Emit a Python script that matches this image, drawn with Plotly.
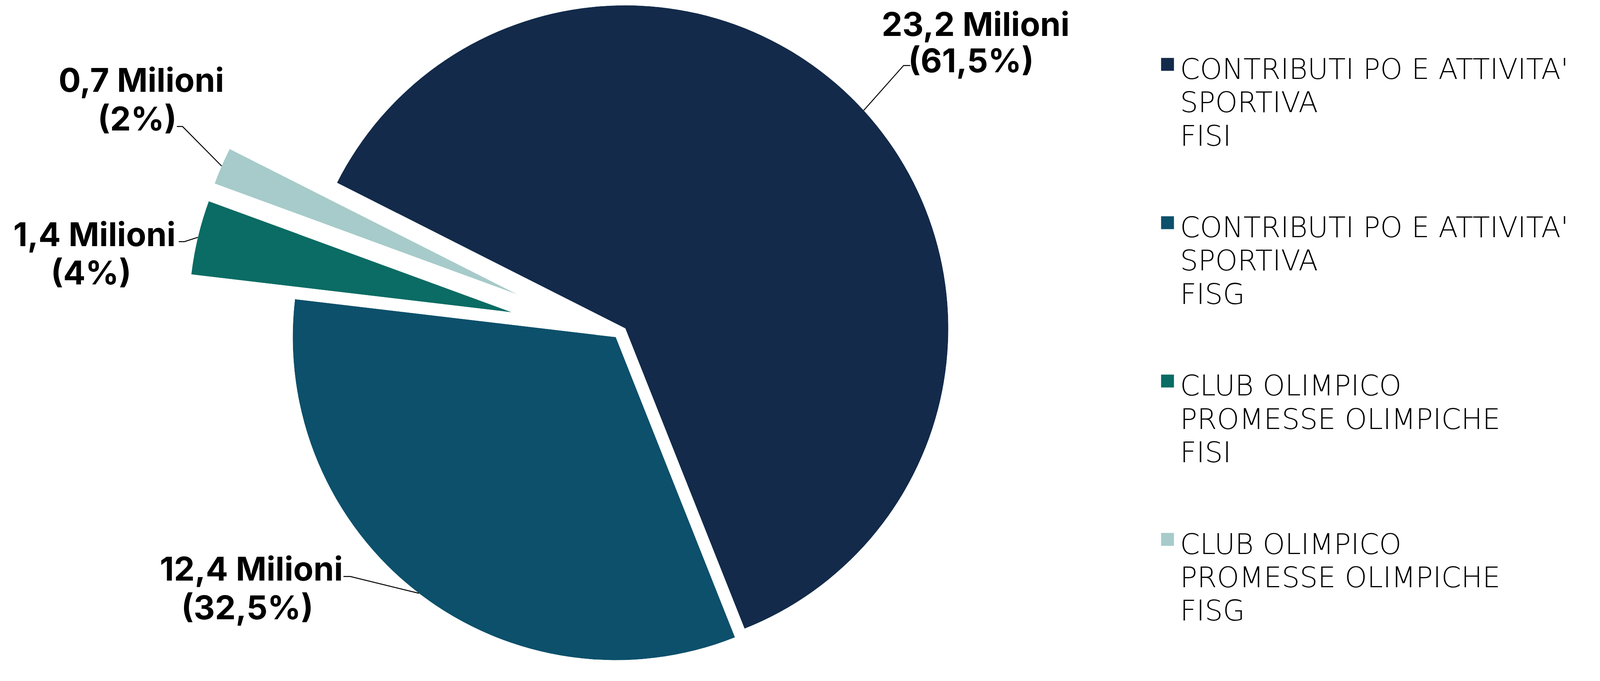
import math
import plotly.graph_objects as go

# ---------------- data ----------------
categories = [
    "CONTRIBUTI PO E ATTIVITA' SPORTIVA FISI",
    "CONTRIBUTI PO E ATTIVITA' SPORTIVA FISG",
    "CLUB OLIMPICO PROMESSE OLIMPICHE FISI",
    "CLUB OLIMPICO PROMESSE OLIMPICHE FISG",
]
legend_lines = [
    ["CONTRIBUTI PO E ATTIVITA'", "SPORTIVA", "FISI"],
    ["CONTRIBUTI PO E ATTIVITA'", "SPORTIVA", "FISG"],
    ["CLUB OLIMPICO", "PROMESSE OLIMPICHE", "FISI"],
    ["CLUB OLIMPICO", "PROMESSE OLIMPICHE", "FISG"],
]
values = [23.2, 12.4, 1.4, 0.7]          # milioni
value_labels = ["23,2 Milioni", "12,4 Milioni", "1,4 Milioni", "0,7 Milioni"]
percent_labels = ["(61,5%)", "(32,5%)", "(4%)", "(2%)"]

# ---------------- style ----------------
colors = ["#132A4A", "#0C506B", "#0A6C64", "#A6CBCA"]
pulls = [0.04, 0.0, 0.33, 0.33]

# screen-pixel design space -> css pixels (page zoom + body margin)
S, M = 1.0315, 8.0
W = int(round(4225 / S - M))
H = int(round(1743 / S - M)) + 1

OX, OY, R = 1626.0, 890.0, 853.0        # pie centre / radius (screen px)
START = 153.2                            # angle where the first slice starts (deg, ccw from east)
LABEL_SIZE = 87.0                        # screen px
LEG_SIZE = 75.0                          # screen px
LABEL_FONT = dict(family="Inter", size=LABEL_SIZE / S, color="#000000", weight=700)
LEG_FONT = dict(family="DejaVu Sans", size=LEG_SIZE / S, color="#000000", weight=200)

# label cap-centres (x centre, y of line 1, y of line 2) and leader elbows (screen px)
label_pos = [((2576, 63), (2564, 165)), ((664, 1507), (653, 1609)),
             ((250, 624), (240, 725)), ((373, 217), (362, 319))]
elbows = [((2386, 173), (2404, 173)), ((925, 1522), (907, 1522)),
          ((487, 638), (472, 638)), ((482, 334), (467, 334))]


def css(v):
    return v / S - M


def px(x):
    return css(x) / W


def py(y):
    return 1 - css(y) / H


def clamp(v):
    return min(1.0, max(0.0, v))


def sector_bbox(s0, s1):
    arc = s1 - s0
    a0 = s0 % 360
    a1 = a0 + arc
    ax0, ay0 = math.cos(math.radians(a0)), math.sin(math.radians(a0))
    ax1, ay1 = math.cos(math.radians(a1)), math.sin(math.radians(a1))
    if (a0 <= 90 and a1 >= 90) or (a0 > 90 and a1 >= 450):
        y1 = 1
    elif ay0 <= 0 and ay1 <= 0:
        y1 = 0
    else:
        y1 = max(ay0, ay1)
    if (a0 <= 180 and a1 >= 180) or (a0 > 180 and a1 >= 540):
        x0 = -1
    elif ax0 >= 0 and ax1 >= 0:
        x0 = 0
    else:
        x0 = min(ax0, ax1)
    if (a0 <= 270 and a1 >= 270) or (a0 > 270 and a1 >= 630):
        y0 = -1
    elif ay0 >= 0 and ay1 >= 0:
        y0 = 0
    else:
        y0 = min(ay0, ay1)
    if a1 >= 360:
        x1 = 1
    elif ax0 <= 0 and ax1 <= 0:
        x1 = 0
    else:
        x1 = max(ax0, ax1)
    return x0, y0, x1, y1


fig = go.Figure()
layout_polars = {}
shapes = []
annotations = []

total = sum(values)
a = START
for i, v in enumerate(values):
    span = 360.0 * v / total
    th1 = a
    th0 = a - span
    mid = a - span / 2
    a = th0
    cx = OX + pulls[i] * R * math.cos(math.radians(mid))
    cy = OY - pulls[i] * R * math.sin(math.radians(mid))
    bx0, by0, bx1, by1 = sector_bbox(th0, th1)
    dom_x = [clamp(px(cx + R * bx0)), clamp(px(cx + R * bx1))]
    dom_y = [clamp(py(cy - R * by0)), clamp(py(cy - R * by1))]
    key = "polar" if i == 0 else f"polar{i + 1}"
    layout_polars[key] = dict(
        domain=dict(x=dom_x, y=dom_y),
        sector=[th0, th1],
        bgcolor="rgba(0,0,0,0)",
        hole=0,
        radialaxis=dict(range=[0, 1], visible=False, showgrid=False, showline=False, showticklabels=False, ticks=""),
        angularaxis=dict(visible=False, showgrid=False, showline=False, showticklabels=False, ticks="",
                         rotation=0, direction="counterclockwise"),
    )
    fig.add_trace(go.Barpolar(
        r=[1], theta=[mid], width=[span], base=0,
        marker=dict(color=colors[i], line=dict(width=0)),
        name=categories[i], subplot=key, showlegend=False, hoverinfo="skip",
    ))

    # leader line from arc midpoint to the label
    ex = cx + R * math.cos(math.radians(mid))
    ey = cy - R * math.sin(math.radians(mid))
    (e1x, e1y), (e2x, e2y) = elbows[i]
    shapes.append(dict(type="path", xref="paper", yref="paper",
                       path=f"M {px(ex)},{py(ey)} L {px(e1x)},{py(e1y)} L {px(e2x)},{py(e2y)}",
                       line=dict(color="#000000", width=2.5 / S)))

    # labels (keep the text box inside the page)
    for (lx, ly), txt in zip(label_pos[i], [value_labels[i], percent_labels[i]]):
        yc = ly - 0.075 * LABEL_SIZE
        yc = max(yc, (M + 2) * S + 0.61 * LABEL_SIZE)
        annotations.append(dict(x=px(lx), y=py(yc), xref="paper", yref="paper",
                                text=txt, showarrow=False, xanchor="center", yanchor="middle",
                                font=LABEL_FONT))

# custom legend (colour squares + three text lines per entry)
for k, lines in enumerate(legend_lines):
    top = 153 + 418 * k
    shapes.append(dict(type="rect", xref="paper", yref="paper",
                       x0=px(3066), x1=px(3100), y0=py(top), y1=py(top + 34),
                       fillcolor=colors[k], line=dict(width=0)))
    for j, t in enumerate(lines):
        yc = 182.5 + 418 * k + 88 * j
        annotations.append(dict(x=px(3114), y=py(yc), xref="paper", yref="paper",
                                text=t, showarrow=False, xanchor="left", yanchor="middle",
                                font=LEG_FONT))

fig.update_layout(
    width=W, height=H,
    margin=dict(l=0, r=0, t=0, b=0, pad=0),
    paper_bgcolor="#FFFFFF",
    plot_bgcolor="#FFFFFF",
    showlegend=False,
    shapes=shapes,
    annotations=annotations,
    **layout_polars,
)

fig.write_html("out.html")
